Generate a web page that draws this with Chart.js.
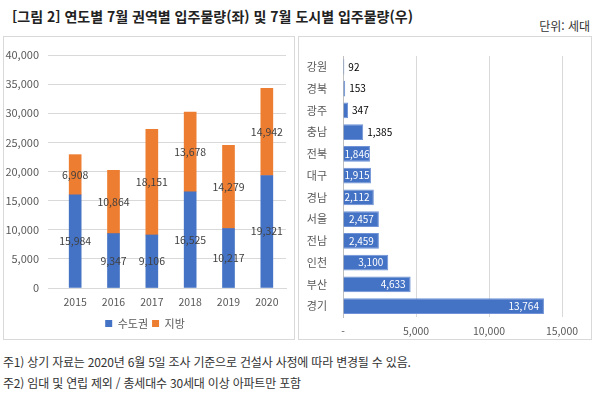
<!DOCTYPE html>
<html lang="ko">
<head>
    <meta charset="UTF-8">
    <title>연도별 7월 입주물량</title>
    <script src="https://cdn.jsdelivr.net/npm/chart.js"></script>
    <style>
        body { margin: 0; width: 600px; height: 393px; background: #fff; position: relative; overflow: hidden;
               font-family: "Noto Sans CJK KR", "Noto Sans", sans-serif; color: #222; }
        .title { position: absolute; left: 12px; top: 6px; font-size: 14px; font-weight: bold; }
        .unit { position: absolute; right: 10px; top: 17px; font-size: 12px; color: #333; }
        .panel { position: absolute; top: 36px; height: 304px; border: 1px solid #d9d9d9; box-sizing: border-box; }
        .panel canvas { position: absolute; left: 0; top: 0; }
        .note { position: absolute; left: 3px; font-size: 12px; color: #333; letter-spacing: -0.2px; }
    </style>
</head>
<body>
    <div class="title">[그림 2] 연도별 7월 권역별 입주물량(좌) 및 7월 도시별 입주물량(우)</div>
    <div class="unit">단위: 세대</div>
    <div class="panel" style="left:3px; width:292px;"><canvas id="yearChart" width="290" height="302"></canvas></div>
    <div class="panel" style="left:298px; width:294px;"><canvas id="cityChart" width="292" height="302"></canvas></div>
    <div class="note" style="top:353px;">주1) 상기 자료는 2020년 6월 5일 조사 기준으로 건설사 사정에 따라 변경될 수 있음.</div>
    <div class="note" style="top:374px;">주2) 임대 및 연립 제외 / 총세대수 30세대 이상 아파트만 포함</div>

    <script>
        const years = ['2015', '2016', '2017', '2018', '2019', '2020'];
        const capital = [15984, 9347, 9106, 16525, 10217, 19321];
        const local = [6908, 10864, 18151, 13678, 14279, 14942];

        const cities = ['강원', '경북', '광주', '충남', '전북', '대구', '경남', '서울', '전남', '인천', '부산', '경기'];
        const cityValues = [92, 153, 347, 1385, 1846, 1915, 2112, 2457, 2459, 3100, 4633, 13764];

        const BLUE = '#4472C4';
        const ORANGE = '#ED7D31';
        const FONT = '"Noto Sans CJK KR", "Noto Sans", sans-serif';

        function fmt(n) {
            return n.toLocaleString('en-US');
        }

        // labels centred in each stacked segment
        const centerLabels = {
            id: 'centerLabels',
            afterDatasetsDraw(chart) {
                const ctx = chart.ctx;
                ctx.save();
                ctx.font = '10.5px ' + FONT;
                ctx.fillStyle = '#404040';
                ctx.textAlign = 'center';
                ctx.textBaseline = 'middle';
                chart.data.datasets.forEach((ds, i) => {
                    chart.getDatasetMeta(i).data.forEach((bar, j) => {
                        ctx.fillText(fmt(ds.data[j]), bar.x, (bar.y + bar.base) / 2);
                    });
                });
                ctx.restore();
            }
        };

        // inside end if it fits, else just past the end
        const endLabels = {
            id: 'endLabels',
            afterDatasetsDraw(chart) {
                const ctx = chart.ctx;
                ctx.save();
                ctx.font = '10px ' + FONT;
                ctx.textBaseline = 'middle';
                ctx.textAlign = 'left';
                const ds = chart.data.datasets[0];
                chart.getDatasetMeta(0).data.forEach((bar, j) => {
                    const txt = fmt(ds.data[j]);
                    const w = ctx.measureText(txt).width;
                    const len = bar.x - bar.base;
                    if (len >= w - 1) {
                        ctx.fillStyle = '#fff';
                        ctx.fillText(txt, Math.max(bar.base + 1, bar.x - w - 5), bar.y);
                    } else {
                        ctx.fillStyle = '#000';
                        ctx.fillText(txt, bar.x + 4, bar.y);
                    }
                });
                ctx.restore();
            }
        };

        Chart.defaults.font.family = FONT;
        Chart.defaults.color = '#595959';

        new Chart(document.getElementById('yearChart'), {
            type: 'bar',
            data: {
                labels: years,
                datasets: [
                    { label: '수도권', data: capital, backgroundColor: BLUE },
                    { label: '지방', data: local, backgroundColor: ORANGE }
                ]
            },
            options: {
                responsive: false,
                animation: false,
                layout: { padding: { top: 18, right: 8, left: 0, bottom: 0 } },
                datasets: { bar: { barThickness: 12 } },
                plugins: {
                    tooltip: { enabled: false },
                    legend: {
                        position: 'bottom',
                        labels: { boxWidth: 7, boxHeight: 7, padding: 4, font: { size: 11 }, color: '#595959' }
                    }
                },
                scales: {
                    x: {
                        stacked: true,
                        grid: { display: false },
                        border: { color: '#d9d9d9' },
                        ticks: { font: { size: 10.5 }, padding: 0 },
                        afterFit(s) { s.height = 26; }
                    },
                    y: {
                        stacked: true,
                        min: 0, max: 40000,
                        ticks: { stepSize: 5000, font: { size: 11 }, padding: 9, callback: v => fmt(v) },
                        grid: { color: '#d9d9d9' },
                        border: { display: false },
                        afterFit(s) { s.width = 52; }
                    }
                }
            },
            plugins: [centerLabels]
        });

        new Chart(document.getElementById('cityChart'), {
            type: 'bar',
            data: {
                labels: cities,
                datasets: [
                    { label: '입주물량', data: cityValues, backgroundColor: BLUE, borderColor: '#6f93d6', borderWidth: 1, barPercentage: 0.72, categoryPercentage: 1 }
                ]
            },
            options: {
                indexAxis: 'y',
                responsive: false,
                animation: false,
                layout: { padding: { top: 19, right: 29, left: 0, bottom: 0 } },
                plugins: {
                    tooltip: { enabled: false },
                    legend: { display: false }
                },
                scales: {
                    x: {
                        min: 0, max: 15000,
                        ticks: { stepSize: 5000, font: { size: 10.5 }, padding: 8, callback: v => v === 0 ? '-' : fmt(v) },
                        grid: { color: '#d9d9d9', drawTicks: false },
                        border: { display: false },
                        afterFit(s) { s.height = 22; }
                    },
                    y: {
                        ticks: { font: { size: 11 }, padding: 8 },
                        grid: { display: false },
                        border: { color: '#bfbfbf' },
                        afterFit(s) { s.width = 44; }
                    }
                }
            },
            plugins: [endLabels]
        });
    </script>
</body>
</html>
